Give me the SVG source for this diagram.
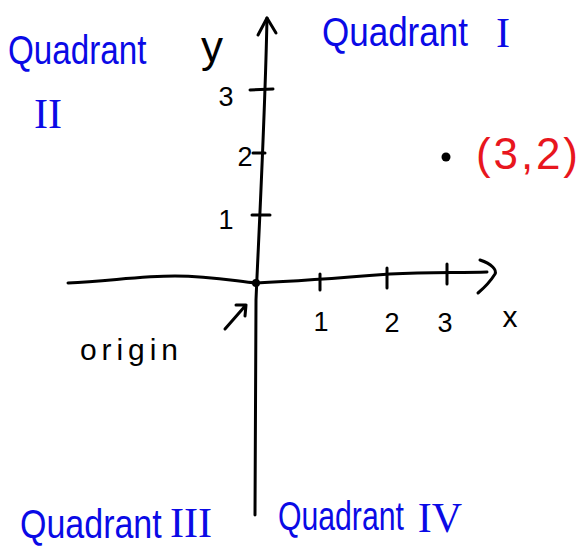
<svg xmlns="http://www.w3.org/2000/svg" width="581" height="546" viewBox="0 0 581 546">
<style>
.ax{fill:none;stroke:#000;stroke-width:3;stroke-linecap:round;stroke-linejoin:round}
.lbl{font-family:"Liberation Sans",Arial,sans-serif;fill:#000}
.q{font-family:"Liberation Sans",Arial,sans-serif;fill:#0a0ae6;font-size:40px}
.rn{font-family:"Liberation Serif","Times New Roman",serif;fill:#0a0ae6;font-size:42px}
</style>
<rect width="581" height="546" fill="#fff"/>
<g id="axes">
<path class="ax" d="M267 18 C265 120 258 250 256 300 C255 380 255 460 255 515"/>
<path class="ax" d="M258 35 L267 18 L276 33"/>
<path class="ax" d="M68 283 C110 281 140 276 175 276 C210 276 235 281 256 283 C300 281 340 278 390 274 C430 272 460 273 487 272"/>
<path class="ax" d="M480 260 C492 264 497 270 495 274 C490 282 484 288 478 293"/>
</g>
<g id="ticks">
<path class="ax" d="M250 90 L273 89"/>
<path class="ax" d="M253 153 L265 153"/>
<path class="ax" d="M252 215 L270 215"/>
<path class="ax" d="M320 274 L320 290"/>
<path class="ax" d="M387 268 L387 288"/>
<path class="ax" d="M447 264 L447 284"/>
</g>
<g id="tick-labels" class="lbl" font-size="27" text-anchor="middle">
<text x="226" y="106">3</text>
<text x="245" y="166">2</text>
<text x="226" y="229">1</text>
<text x="321" y="331">1</text>
<text x="392" y="332">2</text>
<text x="445" y="332">3</text>
<text x="510" y="327" font-size="30">x</text>
<text x="212" y="62" font-size="44">y</text>
</g>
<g id="origin">
<circle cx="256" cy="283" r="4" fill="#000"/>
<path class="ax" d="M225 329 L246 305 M236 305 L246 305 L245 316"/>
<text class="lbl" x="80" y="360" font-size="30" textLength="98" lengthAdjust="spacing">origin</text>
</g>
<g id="point">
<circle cx="446" cy="157" r="4.5" fill="#000"/>
<text x="476" y="169" font-family="Liberation Sans,Arial,sans-serif" font-size="44" fill="#e8161e" textLength="102" lengthAdjust="spacing">(3,2)</text>
</g>
<g id="quadrant-1">
<text class="q" transform="translate(322,46) scale(0.875,1)">Quadrant</text>
<text class="rn" x="503" y="47" text-anchor="middle">I</text>
</g>
<g id="quadrant-2">
<text class="q" transform="translate(8,64) scale(0.83,1)">Quadrant</text>
<text class="rn" x="48" y="128" text-anchor="middle">II</text>
</g>
<g id="quadrant-3">
<text class="q" transform="translate(20,538) scale(0.85,1)">Quadrant</text>
<text class="rn" x="191" y="537" text-anchor="middle">III</text>
</g>
<g id="quadrant-4">
<text class="q" transform="translate(278,530) scale(0.755,1)">Quadrant</text>
<text class="rn" x="440" y="532" text-anchor="middle">IV</text>
</g>
</svg>
